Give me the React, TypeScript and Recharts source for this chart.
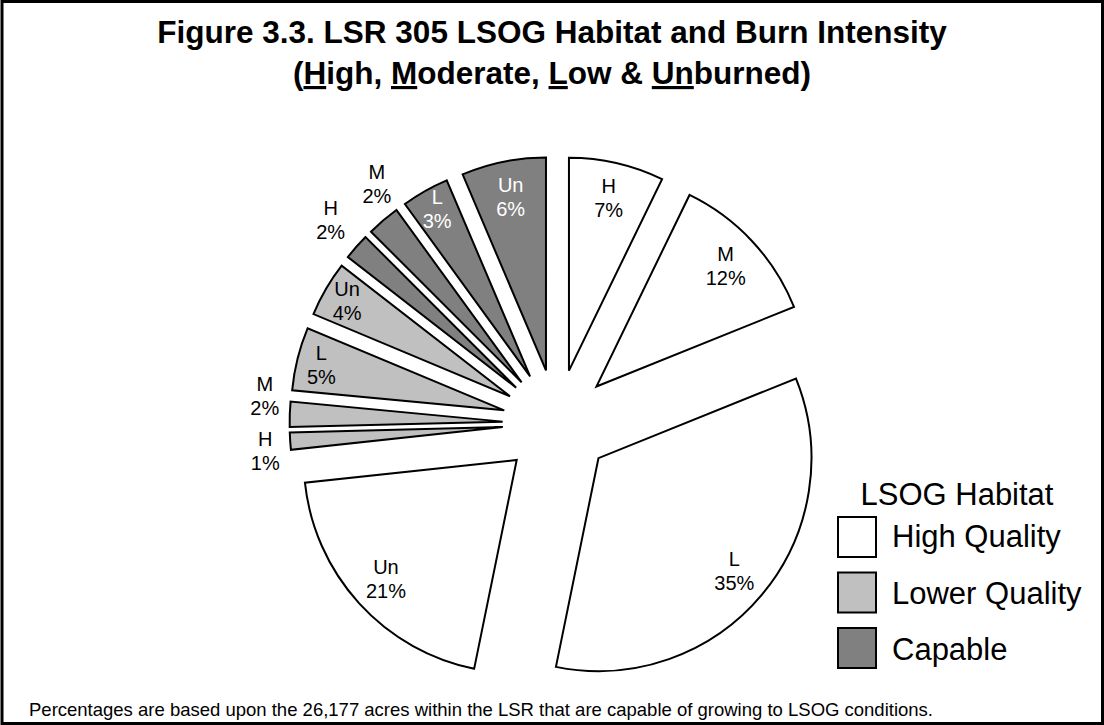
import React from 'react';
import { PieChart, Pie, Cell } from 'recharts';

// slices clockwise from 12 o'clock, as in the original Excel chart.
const BURN = ['H', 'M', 'L', 'Un', 'H', 'M', 'L', 'Un', 'H', 'M', 'L', 'Un'];
const SHARE = [7.2, 11.7, 34.3, 20.1, 1.3, 1.9, 4.8, 4.2, 2.0, 2.5, 3.6, 6.4];
const PCT = ['7%', '12%', '35%', '21%', '1%', '2%', '5%', '4%', '2%', '2%', '3%', '6%'];
const HABITAT = [
  'High Quality', 'High Quality', 'High Quality', 'High Quality',
  'Lower Quality', 'Lower Quality', 'Lower Quality', 'Lower Quality',
  'Capable', 'Capable', 'Capable', 'Capable',
];
const LEGEND = ['High Quality', 'Lower Quality', 'Capable'];

const FILL: Record<string, string> = {
  'High Quality': '#ffffff',
  'Lower Quality': '#c0c0c0',
  Capable: '#808080',
};

// labels that Excel pushed outside their slice
const OUTSIDE = [false, false, false, false, true, true, false, false, true, true, false, false];
// Excel spreads the crowded outside labels a bit
const NUDGE = [
  [0, 0], [0, 0], [0, 0], [0, 0], [8, 8], [8, -17],
  [0, 0], [0, 0], [-1, -5], [15, -11], [0, -3], [0, 0],
];

const W = 1104;
const H = 725;
const CX = 556.8;
const CY = 423.5;
const R = 213;
const EXPLODE = 54.2;
const FONT = '"Liberation Sans", Arial, sans-serif';

const rows = SHARE.map((v, i) => ({ name: BURN[i], value: v, habitat: HABITAT[i] }));
const total = SHARE.reduce((a, b) => a + b, 0);
const mids = SHARE.map(
  (v, i) => ((SHARE.slice(0, i).reduce((a, b) => a + b, 0) + v / 2) / total) * 2 * Math.PI,
);

const makeLabel = (k: number) => (props: any) => {
  if (props.index !== k) return null;
  const { cx, cy, midAngle, outerRadius } = props;
  const rad = (-midAngle * Math.PI) / 180;
  // thin slices get their text pushed further out where there is room
  const dist = OUTSIDE[k]
    ? outerRadius + 33
    : outerRadius * (SHARE[k] < 6 ? 0.885 : 0.83);
  const x = cx + dist * Math.cos(rad) + NUDGE[k][0];
  const y = cy + dist * Math.sin(rad) + NUDGE[k][1];
  const color = HABITAT[k] === 'Capable' && !OUTSIDE[k] ? '#ffffff' : '#000000';
  return (
    <g>
      <text x={x} y={y - 12} textAnchor='middle' dominantBaseline='central' fill={color} fontSize={20} fontFamily={FONT}>
        {BURN[k]}
      </text>
      <text x={x} y={y + 12} textAnchor='middle' dominantBaseline='central' fill={color} fontSize={20} fontFamily={FONT}>
        {PCT[k]}
      </text>
    </g>
  );
};

export default function App() {
  return (
    <div style={{ position: 'absolute', left: 0, top: 0, width: W, height: H, background: '#fff' }}>
      <svg width={W} height={H} style={{ position: 'absolute', left: 0, top: 0 }}>
        <rect x={2} y={1.5} width={W - 3.5} height={H - 3} fill='none' stroke='#000' strokeWidth={3} />
        <text x={552} y={43} textAnchor='middle' fontSize={31.5} fontWeight='bold' fontFamily={FONT}>
          Figure 3.3. LSR 305 LSOG Habitat and Burn Intensity
        </text>
        <text x={552} y={84} textAnchor='middle' fontSize={31.5} fontWeight='bold' fontFamily={FONT}>
          (<tspan style={{ textDecoration: 'underline' }}>H</tspan>igh,{' '}
          <tspan style={{ textDecoration: 'underline' }}>M</tspan>oderate,{' '}
          <tspan style={{ textDecoration: 'underline' }}>L</tspan>ow &amp;{' '}
          <tspan style={{ textDecoration: 'underline' }}>Un</tspan>burned)
        </text>
        <text x={957} y={505} textAnchor='middle' fontSize={31} fontFamily={FONT}>
          LSOG Habitat
        </text>
        {LEGEND.map((name, i) => (
          <g key={name}>
            <rect x={838} y={517 + i * 55.5} width={38} height={40} fill={FILL[name]} stroke='#000' strokeWidth={2} />
            <text x={892} y={547 + i * 56.5} fontSize={31} fontFamily={FONT}>
              {name}
            </text>
          </g>
        ))}
        <text x={29} y={716} fontSize={18.5} fontFamily={FONT}>
          Percentages are based upon the 26,177 acres within the LSR that are capable of growing to LSOG conditions.
        </text>
      </svg>
      <div style={{ position: 'absolute', left: 0, top: 0 }}>
        <PieChart width={W} height={H} margin={{ top: 0, right: 0, bottom: 0, left: 0 }}>
          {SHARE.map((_, k) => (
            <Pie
              key={`slice-${k}`}
              data={rows}
              dataKey='value'
              nameKey='name'
              cx={CX + EXPLODE * Math.sin(mids[k])}
              cy={CY - EXPLODE * Math.cos(mids[k])}
              outerRadius={R}
              startAngle={90}
              endAngle={-270}
              isAnimationActive={false}
              labelLine={false}
              label={makeLabel(k)}
            >
              {rows.map((r, i) => (
                <Cell
                  key={`cell-${i}`}
                  fill={i === k ? FILL[r.habitat] : 'none'}
                  stroke={i === k ? '#000' : 'none'}
                  strokeWidth={2}
                />
              ))}
            </Pie>
          ))}
        </PieChart>
      </div>
    </div>
  );
}
